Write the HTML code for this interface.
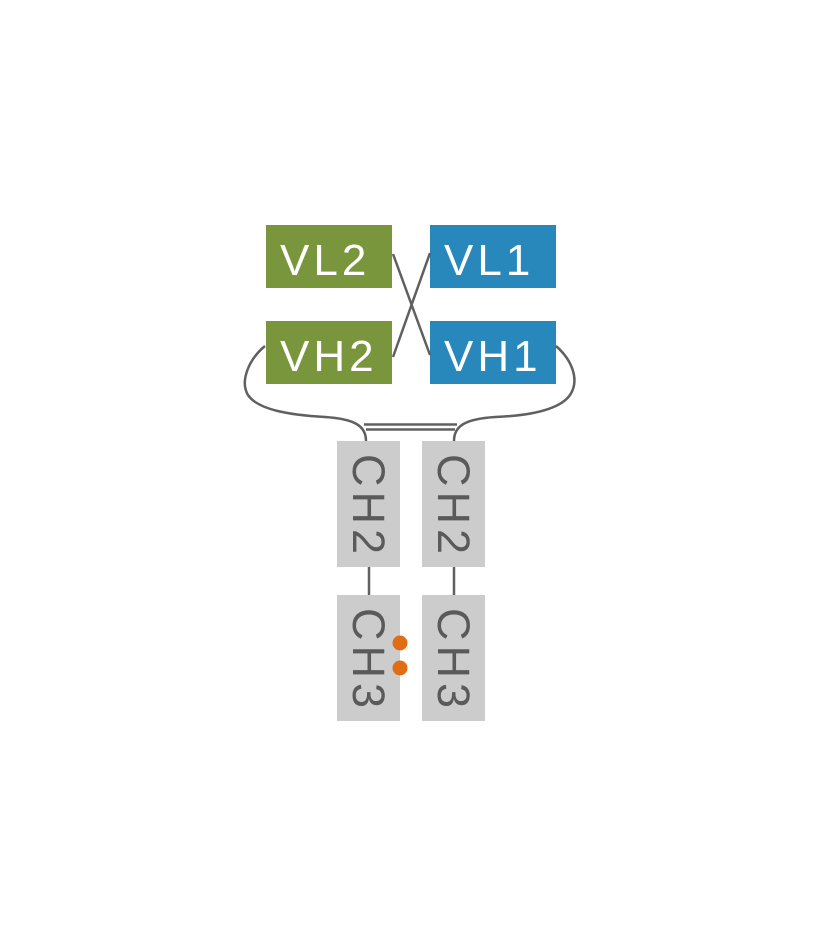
<!DOCTYPE html>
<html><head><meta charset="utf-8"><style>
html,body{margin:0;padding:0;background:#fff;}
svg{display:block;}
text{font-family:"Liberation Sans",sans-serif;font-size:44px;letter-spacing:4px;}
text.v{font-size:45px;letter-spacing:5px;}
</style></head><body>
<svg width="820" height="946" viewBox="0 0 820 946" xmlns="http://www.w3.org/2000/svg">
<rect width="820" height="946" fill="#fff"/>
<rect x="266" y="225" width="126" height="63" fill="#7a963d"/>
<rect x="430" y="225" width="126" height="63" fill="#2888bc"/>
<rect x="266" y="321" width="126" height="63" fill="#7a963d"/>
<rect x="430" y="321" width="126" height="63" fill="#2888bc"/>
<text x="280" y="275" fill="#fff">VL2</text>
<text x="444" y="275" fill="#fff">VL1</text>
<text x="280" y="371" fill="#fff">VH2</text>
<text x="444" y="371" fill="#fff">VH1</text>
<g stroke="#606060" stroke-width="2.5" fill="none">
<line x1="393" y1="254" x2="430" y2="355"/>
<line x1="393" y1="357" x2="430" y2="253"/>
<path d="M265,346 C248,360 240,382 248,395 C258,410 290,415 325,417 C355,419 366,426 366,441"/>
<path d="M556,346 C572,360 580,380 570,395 C558,412 520,416 495,417 C465,419 454,426 454,441"/>
<line x1="364" y1="424.5" x2="457" y2="424.5"/>
<line x1="366" y1="429.5" x2="455" y2="429.5"/>
<line x1="369" y1="567" x2="369" y2="595"/>
<line x1="454" y1="567" x2="454" y2="595"/>
</g>
<rect x="337" y="441" width="63" height="126" fill="#cccccc"/>
<rect x="422" y="441" width="63" height="126" fill="#cccccc"/>
<rect x="337" y="595" width="63" height="126" fill="#cccccc"/>
<rect x="422" y="595" width="63" height="126" fill="#cccccc"/>
<text class="v" transform="translate(353,454) rotate(90)" fill="#5a5a5a">CH2</text>
<text class="v" transform="translate(438,454) rotate(90)" fill="#5a5a5a">CH2</text>
<text class="v" transform="translate(353,608) rotate(90)" fill="#5a5a5a">CH3</text>
<text class="v" transform="translate(438,608) rotate(90)" fill="#5a5a5a">CH3</text>
<circle cx="400" cy="643" r="7.5" fill="#e06c14"/>
<circle cx="400" cy="668" r="7.5" fill="#e06c14"/>
</svg>
</body></html>
